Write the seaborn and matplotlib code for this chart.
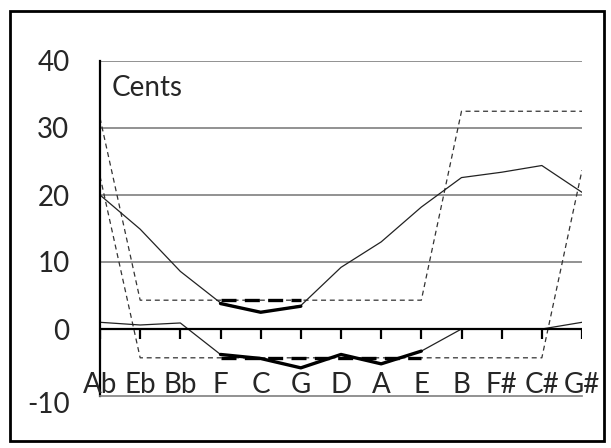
import numpy as np
import pandas as pd
import seaborn as sns
import matplotlib.pyplot as plt
import matplotlib.transforms as mtransforms
from matplotlib.patches import Rectangle

# Notes around the circle of fifths
notes = ["Ab", "Eb", "Bb", "F", "C", "G", "D", "A", "E", "B", "F#", "C#", "G#"]

# Deviations in cents
upper_thin = [20.0, 14.9, 8.6, 3.9, 2.5, 3.5, 9.2, 13.0, 18.2, 22.6, 23.4, 24.4, 20.4]
upper_dash = [31.5, 4.3, 4.3, 4.3, 4.3, 4.3, 4.3, 4.3, 4.3, 32.5, 32.5, 32.5, 32.5]
lower_thin = [1.0, 0.6, 0.9, -3.8, -4.4, -5.8, -3.8, -5.2, -3.3, 0.0, 0.0, 0.0, 1.0]
lower_dash = [22.8, -4.3, -4.3, -4.3, -4.3, -4.3, -4.3, -4.3, -4.3, -4.3, -4.3, -4.3, 23.7]

upper_notes = ["F", "C", "G"]
upper_thick = [3.8, 2.5, 3.4]
upper_thick_dash = [4.3, 4.3, 4.3]

lower_notes = ["F", "C", "G", "D", "A", "E"]
lower_thick = [-3.8, -4.4, -5.8, -3.8, -5.2, -3.3]
lower_thick_dash = [-4.3, -4.3, -4.3, -4.3, -4.3, -4.3]

pos = {n: i for i, n in enumerate(notes)}


def frame(names, vals):
    return pd.DataFrame({"pos": [pos[n] for n in names], "cents": vals})


sns.set_style("white")
plt.rcParams["font.family"] = ["Lato", "DejaVu Sans"]
plt.rcParams["axes.unicode_minus"] = False

fig = plt.figure(figsize=(6.11, 4.48), dpi=100)
ax = fig.add_axes([100 / 611, 1 - 396 / 448, 482 / 611, 335 / 448])

grid_c = "#7f7f7f"
for y in [10, 20, 30, 40]:
    ax.axhline(y, color=grid_c, lw=1.2, zorder=1)

thin = dict(color="#222222", lw=0.9)
dash_thin = dict(color="#333333", lw=0.9, ls=(0, (4, 3)))
thick = dict(color="black", lw=2.4)
dash_thick = dict(color="black", lw=2.4, ls=(0, (4.5, 2.5)))

sns.lineplot(data=frame(notes, upper_dash), x="pos", y="cents", ax=ax, **dash_thin)
sns.lineplot(data=frame(notes, lower_dash), x="pos", y="cents", ax=ax, **dash_thin)
sns.lineplot(data=frame(notes, upper_thin), x="pos", y="cents", ax=ax, **thin)
sns.lineplot(data=frame(notes, lower_thin), x="pos", y="cents", ax=ax, **thin)
sns.lineplot(data=frame(upper_notes, upper_thick_dash), x="pos", y="cents", ax=ax, **dash_thick)
sns.lineplot(data=frame(lower_notes, lower_thick_dash), x="pos", y="cents", ax=ax, **dash_thick)
sns.lineplot(data=frame(upper_notes, upper_thick), x="pos", y="cents", ax=ax, **thick)
sns.lineplot(data=frame(lower_notes, lower_thick), x="pos", y="cents", ax=ax, **thick)

# category axis crossing at zero, with tick marks hanging below
ax.axhline(0, color="black", lw=1.6, zorder=3)
ax.vlines(range(len(notes)), -1.5, 0, color="black", lw=1.6, zorder=3)

ax.set_xlim(0, len(notes) - 1)
ax.set_ylim(-10, 40)
ax.set_xticks([])
ax.set_yticks([-10, 0, 10, 20, 30, 40])
ax.tick_params(axis="y", length=0, pad=22, labelsize=20)
ax.set_xlabel("")
ax.set_ylabel("")

# the bottom label sits a little lower in the original
low = ax.get_yticklabels()[0]
low.set_transform(low.get_transform() +
                  mtransforms.ScaledTranslation(0, -6 / 100, fig.dpi_scale_trans))

for n in notes:
    ax.text(pos[n], -8.4, n, ha="center", va="center", fontsize=20, zorder=5)

ax.text(0.3, 36.0, "Cents", ha="left", va="center", fontsize=20)

for s in ["top", "right"]:
    ax.spines[s].set_visible(False)
ax.spines["left"].set_color("black")
ax.spines["left"].set_linewidth(1.6)
ax.spines["bottom"].set_color(grid_c)
ax.spines["bottom"].set_linewidth(1.2)

fig.add_artist(Rectangle((10 / 611, 1 - 441 / 448), 594 / 611, 430 / 448,
                         transform=fig.transFigure, fill=False, ec="black", lw=2))

fig.savefig("out.png", dpi=100)
